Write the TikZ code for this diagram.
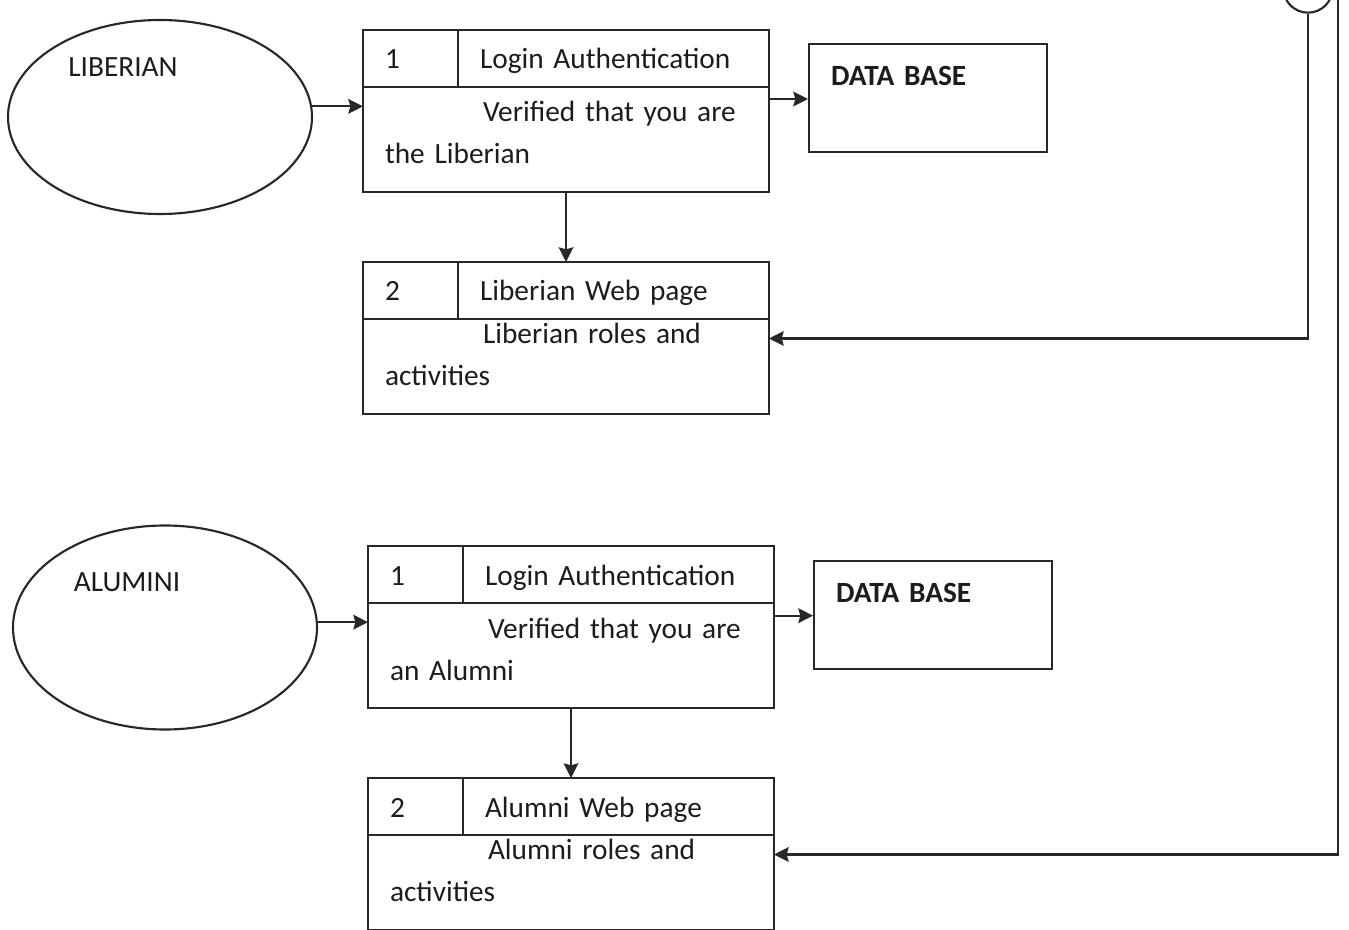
\documentclass[tikz,border=0pt]{standalone}
\usepackage{fontspec}
\setmainfont{Carlito}
\usepackage{tikz}
\usetikzlibrary{arrows.meta,positioning,shapes.geometric}
\definecolor{fontgray}{RGB}{28, 28, 28}
\definecolor{linegray}{RGB}{40, 40, 40}

\begin{document}
\begin{tikzpicture}[x=0.75pt, y=-0.75pt, node distance=0pt, >=Stealth,
		every node/.style={font=\fontsize{22}{31.5}\selectfont, text=fontgray},
		numcell/.style={draw=linegray, rectangle, line width=1.6pt, outer sep=0pt, text height=29.25pt, text depth=13.5pt, text width=38.25pt, inner xsep=16.5pt, inner ysep=0pt, align=left},
		titlecell/.style={draw=linegray, rectangle, line width=1.6pt, outer sep=0pt, text height=29.25pt, text depth=13.5pt, text width=200.25pt, inner xsep=16.5pt, inner ysep=0pt, align=left},
		bodycell/.style={draw=linegray, rectangle, line width=1.6pt, outer sep=0pt, text width=271.5pt, inner xsep=16.5pt, inner ysep=0pt, align=left},
		dbbox/.style={draw=linegray, rectangle, line width=1.6pt, font=\fontsize{22}{31.5}\selectfont\bfseries, text width=145.5pt, inner xsep=16.5pt, inner ysep=0pt, text height=30.75pt, text depth=50.25pt, align=left},
		actor/.style={draw=linegray, ellipse, line width=1.6pt, inner sep=0pt},
		joint/.style={draw=linegray, circle, line width=1.6pt, minimum size=37pt, inner sep=0pt},
		flow/.style={line width=1.6pt, -{Stealth[length=11pt,width=11pt,inset=1.5pt]}, color=linegray},
		chainLine/.style={line width=1.6pt, -, color=linegray}
		]
		\useasboundingbox (0,0) rectangle (1349,930);
		
		% Liberian
		\node[actor, minimum width=228pt, minimum height=145.5pt, label={[xshift=-27.75pt, yshift=37.5pt]center:LIBERIAN}] (lib) at (160,117) {};
		\node[numcell, anchor=north west] (l1num) at (363,30) {1};
		\node[titlecell, right=of l1num] (l1title) {Login Authentication};
		\node[bodycell, text height=26.25pt, text depth=52.5pt, below=of l1num.south west, anchor=north west] (l1body) {\hspace*{73.5pt}Verified that you are\\the Liberian};
		\node[dbbox, anchor=north west] (db1) at ([xshift=29.25pt, yshift=-9.75pt]l1title.north east) {DATA BASE};
		
		\node[numcell, below=52.5pt of l1body.south west, anchor=north west] (l2num) {2};
		\node[titlecell, right=of l2num] (l2title) {Liberian Web page};
		\node[bodycell, text height=18.5pt, text depth=52.75pt, below=of l2num.south west, anchor=north west] (l2body) {\hspace*{73.5pt}Liberian roles and\\activities};
		
		% Alumini
		\node[actor, minimum width=228pt, minimum height=153pt, label={[xshift=-28.5pt, yshift=34pt]center:ALUMINI}] (alu) at (165,627.5) {};
		\node[numcell, anchor=north west] (a1num) at (368,546) {1};
		\node[titlecell, right=of a1num] (a1title) {Login Authentication};
		\node[bodycell, text height=26.25pt, text depth=52.5pt, below=of a1num.south west, anchor=north west] (a1body) {\hspace*{73.5pt}Verified that you are\\an Alumni};
		\node[dbbox, anchor=north west] (db2) at ([xshift=29.25pt, yshift=-10.5pt]a1title.north east) {DATA BASE};
		
		\node[numcell, below=52.5pt of a1body.south west, anchor=north west] (a2num) {2};
		\node[titlecell, right=of a2num] (a2title) {Alumni Web page};
		\node[bodycell, text height=18.5pt, text depth=52.75pt, below=of a2num.south west, anchor=north west] (a2body) {\hspace*{73.5pt}Alumni roles and\\activities};
		
		% links from the top
		\node[joint] (conn) at (1308,-12) {};
		\coordinate (feed) at (1338,0);
		
		\draw [flow] (lib.4) to [] (lib.4 -| l1body.west);
		\draw [flow] ([yshift=-9pt]l1body.north east) to [] ([yshift=-9pt]l1body.north east -| db1.west);
		\draw [flow] (l1body.south) to [] (l1body.south |- l2num.north);
		\draw [flow] (conn.south) |- ([yshift=21pt]l2body.east);
		
		\draw [flow] (alu.2) to [] (alu.2 -| a1body.west);
		\draw [flow] ([yshift=-9.5pt]a1body.north east) to [] ([yshift=-9.5pt]a1body.north east -| db2.west);
		\draw [flow] (a1body.south) to [] (a1body.south |- a2num.north);
		\draw [flow] (feed) |- ([yshift=21pt]a2body.east);
		\end{tikzpicture}
\end{document}
